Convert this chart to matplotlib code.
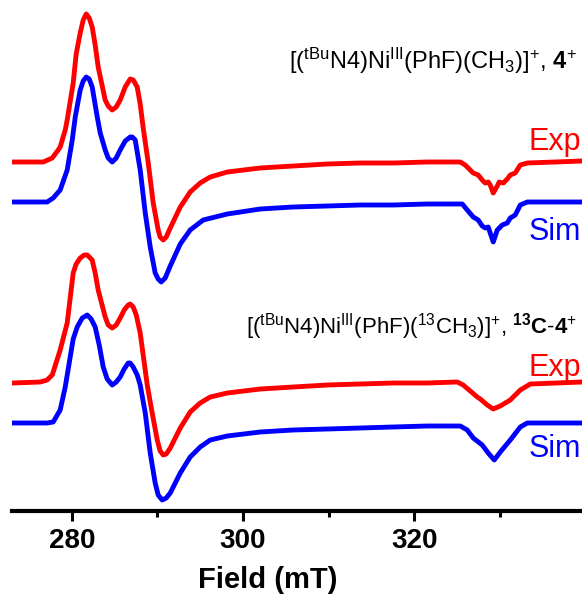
import matplotlib
matplotlib.use('Agg')
import matplotlib.pyplot as plt
from matplotlib import font_manager
from matplotlib.ticker import MultipleLocator

# font: narrow Arial-like if available
names = {f.name for f in font_manager.fontManager.ttflist}
fam = 'Liberation Sans Narrow' if 'Liberation Sans Narrow' in names else 'Liberation Sans'
plt.rcParams['font.family'] = [fam, 'DejaVu Sans']
plt.rcParams['mathtext.fontset'] = 'custom'
plt.rcParams['mathtext.rm'] = fam
plt.rcParams['mathtext.bf'] = fam + ':bold'
plt.rcParams['mathtext.it'] = fam + ':italic'

# spectra (field in mT, intensity in arbitrary units)
field_exp_4 = [273.14, 276.65, 277.70, 278.40, 278.63, 279.22, 279.45, 280.15, 280.50, 280.97,
               281.32, 281.67, 282.02, 282.37, 282.72, 283.07, 283.89, 284.24, 284.71, 285.18,
               285.64, 286.23, 286.81, 287.16, 287.63, 287.98, 288.33, 288.92, 289.50, 290.08,
               290.31, 290.67, 291.02, 291.49, 292.66, 293.82, 294.99, 296.16, 298.15, 302.00,
               305.86, 309.83, 313.69, 317.54, 321.51, 325.37, 325.95, 326.89, 327.47, 327.94,
               328.29, 328.64, 328.88, 329.23, 329.70, 329.93, 330.40, 330.87, 331.22, 331.80,
               332.39, 333.21, 339.63]
exp_4 = [0, 0, 4, 12, 15, 32, 42, 79, 108, 129,
         142, 148, 144, 135, 117, 95, 62, 56, 52, 55,
         62, 75, 83, 82, 75, 58, 34, -1, -41, -68,
         -75, -78, -75, -66, -45, -30, -21, -15, -10, -6,
         -4, -2, -1, -1, 0, 0, -3, -11, -13, -18,
         -21, -20, -23, -31, -24, -20, -21, -17, -13, -11,
         -3, -1, 1]

field_sim_4 = [273.14, 277.11, 277.81, 278.63, 279.45, 280.04, 280.39, 280.97, 281.32, 281.67,
               282.02, 282.37, 282.96, 283.31, 283.89, 284.24, 284.71, 285.18, 285.64, 286.23,
               286.81, 287.05, 287.40, 287.98, 288.57, 289.15, 289.73, 290.08, 290.43, 290.90,
               291.49, 292.66, 293.82, 295.34, 298.15, 302.00, 305.86, 309.83, 313.69, 317.54,
               321.51, 325.61, 326.19, 326.89, 327.47, 327.94, 328.29, 328.64, 329.23, 329.70,
               330.28, 330.87, 331.22, 331.80, 332.39, 333.21, 339.63]
sim_4 = [0, 0, 4, 12, 32, 62, 85, 112, 121, 125,
         123, 115, 85, 69, 52, 44, 40, 44, 52, 61,
         65, 65, 62, 32, -11, -45, -71, -77, -80, -76,
         -64, -42, -28, -18, -12, -7, -5, -4, -3, -3,
         -2, -2, -8, -15, -18, -24, -26, -25, -40, -28,
         -23, -21, -16, -13, -3, 0, 0]

field_exp_13c = [273.14, 276.30, 277.11, 277.70, 278.63, 279.45, 280.15, 280.50, 280.97, 281.44,
                 281.79, 282.37, 282.72, 283.07, 283.89, 284.24, 284.71, 285.18, 285.64, 286.11,
                 286.58, 286.81, 287.16, 287.52, 287.98, 288.80, 289.38, 289.97, 290.31, 290.67,
                 291.02, 291.49, 292.66, 293.82, 294.99, 296.16, 298.15, 302.00, 305.86, 309.83,
                 313.69, 317.54, 321.51, 325.02, 325.72, 326.54, 327.36, 327.71, 328.53, 329.23,
                 330.05, 331.22, 332.39, 333.56, 339.63]
exp_13c = [0, 1, 3, 8, 33, 60, 110, 119, 125, 128,
           128, 123, 110, 93, 66, 58, 55, 58, 65, 73,
           78, 79, 76, 68, 50, -2, -30, -57, -68, -72,
           -71, -65, -45, -29, -20, -14, -10, -6, -4, -2,
           -1, 0, 0, 1, -2, -8, -14, -16, -22, -26,
           -23, -17, -7, -1, 1]

field_sim_13c = [273.14, 277.11, 277.81, 278.63, 279.22, 279.80, 280.15, 280.62, 281.21, 281.79,
                 282.25, 282.72, 283.19, 283.66, 284.12, 284.71, 285.18, 285.64, 286.11, 286.58,
                 286.81, 287.16, 287.63, 287.98, 288.57, 289.15, 289.73, 290.08, 290.55, 291.02,
                 291.49, 292.66, 293.82, 294.99, 296.16, 298.15, 302.00, 305.86, 309.83, 313.69,
                 317.54, 321.51, 325.37, 326.19, 326.89, 327.94, 328.64, 329.35, 330.05, 331.22,
                 332.39, 333.21, 339.63]
sim_13c = [0, 0, 1, 13, 36, 66, 84, 96, 105, 108,
           104, 96, 78, 56, 44, 38, 41, 46, 54, 60,
           60, 56, 48, 38, 10, -30, -60, -72, -77, -75,
           -70, -50, -34, -24, -17, -13, -9, -7, -6, -5,
           -4, -3, -3, -7, -15, -22, -30, -37, -29, -17,
           -4, 0, 0]

# vertical stacking of the traces
offsets = [349, 309, 128, 88]

fig = plt.figure(figsize=(5.82, 5.97), dpi=100)
ax = fig.add_axes([12 / 582, 86 / 597, 570 / 582, 511 / 597])

ax.plot(field_exp_4, [v + offsets[0] for v in exp_4], color='#ff0000', lw=3.5, solid_joinstyle='round')
ax.plot(field_sim_4, [v + offsets[1] for v in sim_4], color='#0000ff', lw=3.5, solid_joinstyle='round')
ax.plot(field_exp_13c, [v + offsets[2] for v in exp_13c], color='#ff0000', lw=3.5, solid_joinstyle='round')
ax.plot(field_sim_13c, [v + offsets[3] for v in sim_13c], color='#0000ff', lw=3.5, solid_joinstyle='round')

ax.set_xlim(273.0, 339.6)
ax.set_ylim(0, 511)
for s in ['left', 'right', 'top']:
    ax.spines[s].set_visible(False)
ax.spines['bottom'].set_linewidth(3)
ax.set_yticks([])
ax.xaxis.set_major_locator(MultipleLocator(20))
ax.xaxis.set_minor_locator(MultipleLocator(10))
ax.tick_params(axis='x', which='major', length=7, width=2.2, pad=5, labelsize=20)
ax.tick_params(axis='x', which='minor', length=4.3, width=2.2)
for lab in ax.get_xticklabels():
    lab.set_fontweight('bold')
ax.set_xlabel('Field (mT)', fontsize=21, fontweight='bold')
ax.xaxis.set_label_coords(0.449, -0.108)

fig.text(577 / 582, 1 - 69 / 597,
         r'[($^{\mathrm{tBu}}$N4)Ni$^{\mathrm{III}}$(PhF)(CH$_{3}$)]$^{+}$, $\mathbf{4}^{+}$',
         ha='right', va='baseline', fontsize=17)
fig.text(577 / 582, 1 - 333 / 597,
         r'[($^{\mathrm{tBu}}$N4)Ni$^{\mathrm{III}}$(PhF)($^{13}$CH$_{3}$)]$^{+}$, $\mathbf{^{13}C}$-$\mathbf{4}^{+}$',
         ha='right', va='baseline', fontsize=16)

fig.text(581 / 582, 1 - 150 / 597, 'Exp', color='#ff0000', fontsize=22, ha='right', va='baseline')
fig.text(581 / 582, 1 - 240 / 597, 'Sim', color='#0000ff', fontsize=22, ha='right', va='baseline')
fig.text(581 / 582, 1 - 376 / 597, 'Exp', color='#ff0000', fontsize=22, ha='right', va='baseline')
fig.text(581 / 582, 1 - 457 / 597, 'Sim', color='#0000ff', fontsize=22, ha='right', va='baseline')

fig.savefig('out.png', dpi=100)
